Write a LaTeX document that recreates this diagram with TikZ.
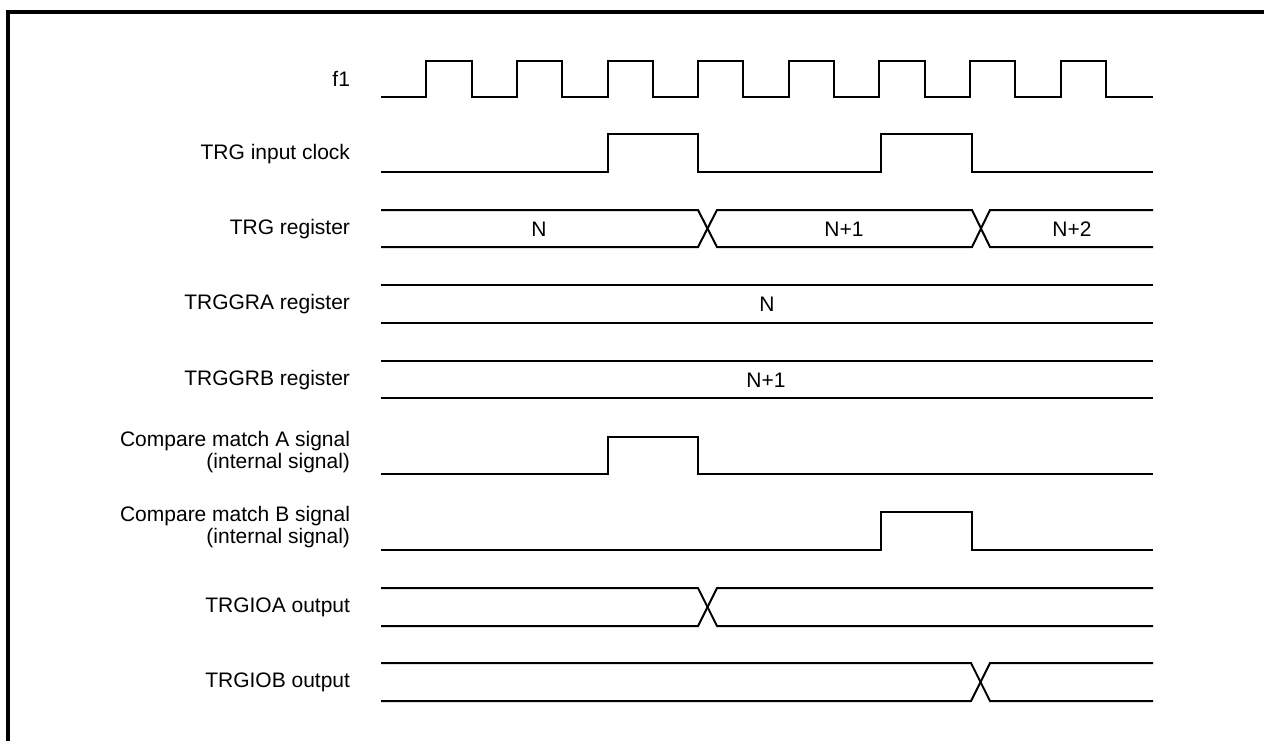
\documentclass[tikz,border=0pt]{standalone}
\usepackage{fontspec}
\setmainfont{Liberation Sans}
\usetikzlibrary{positioning}

\begin{document}
\begin{tikzpicture}[x=1pt,y=-1pt,line width=2pt,
    font=\fontsize{21}{22}\selectfont,
    sig/.style={anchor=east,inner sep=0pt,align=right},
    val/.style={inner sep=0pt}]
  \useasboundingbox (0,0) rectangle (1264,740);
  % frame, open at the bottom and on the right
  \draw[line width=4pt] (7.5,745) -- (7.5,12) -- (1270,12);
  % signal names
  \foreach \y/\name/\txt in {79/f1/f1, 154/trgclk/TRG input clock,
      229/trg/TRG register, 304/gra/TRGGRA register, 380/grb/TRGGRB register,
      452/cma/{Compare match A signal\\(internal signal)},
      527/cmb/{Compare match B signal\\(internal signal)},
      607/ioa/TRGIOA output, 682/iob/TRGIOB output}
    \node[sig] (\name) at (351,\y) {\txt};
  % f1
  \draw (381,97) \foreach \k in {0,...,7} { -| ++(45.3,-36) -| ++(45.3,36) }
    -- (1153,97);
  % TRG input clock
  \draw (381,172) -| (608,134) -| (698,172) -| (881,134) -| (972,172) -- (1153,172);
  % TRG register
  \draw (381,210) -- (698,210) -- (717,247) -- (972,247) -- (990,210) -- (1153,210);
  \draw (381,247) -- (698,247) -- (717,210) -- (972,210) -- (990,247) -- (1153,247);
  \node[val] (trgN) at (539,229) {N};
  \node[val] (trgN1) at (844,229) {N+1};
  \node[val] (trgN2) at (1072,229) {N+2};
  % TRGGRA / TRGGRB
  \draw (381,285) -- (1153,285) (381,323) -- (1153,323);
  \node[val] (graN) at (767,304) {N};
  \draw (381,361) -- (1153,361) (381,398) -- (1153,398);
  \node[val] (grbN1) at (766,380) {N+1};
  % compare match A / B
  \draw (381,474) -| (608,437) -| (698,474) -- (1153,474);
  \draw (381,550) -| (881,512) -| (972,550) -- (1153,550);
  % TRGIOA / TRGIOB
  \draw (381,588) -- (698,588) -- (717,626) -- (1153,626);
  \draw (381,626) -- (698,626) -- (717,588) -- (1153,588);
  \draw (381,663) -- (971,663) -- (990,701) -- (1153,701);
  \draw (381,701) -- (971,701) -- (990,663) -- (1153,663);
\end{tikzpicture}
\end{document}
